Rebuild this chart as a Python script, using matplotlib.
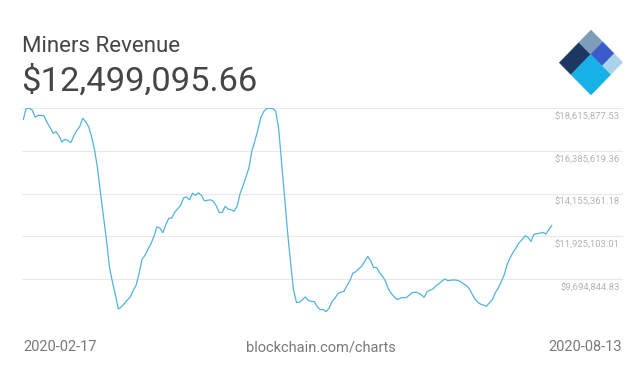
import numpy as np
import matplotlib
matplotlib.use("Agg")
import matplotlib.pyplot as plt
import pandas as pd

plt.rcParams['font.family'] = ['Roboto', 'DejaVu Sans']

# daily miners revenue (USD millions), 2020-02-17 .. 2020-08-13
revenue_m = [
    18.014, 18.585, 18.585, 18.497, 18.118, 18.222, 18.212, 18.186, 17.838, 17.599,
    17.288, 17.371, 17.148, 16.837, 16.977, 16.904, 16.801, 17.148, 17.423, 17.631,
    18.066, 17.890, 17.631, 17.112, 16.422, 15.473, 14.176, 12.963, 11.754, 10.354,
    9.576, 8.902, 8.160, 8.264, 8.435, 8.616, 8.772, 9.109, 9.394, 9.991,
    10.743, 10.950, 11.261, 11.547, 11.925, 12.428, 12.361, 12.117, 12.532, 12.869,
    12.880, 13.180, 13.362, 13.544, 13.933, 13.969, 13.829, 14.176, 14.062, 14.192,
    14.062, 13.777, 13.803, 13.829, 13.751, 13.517, 13.170, 13.170, 13.492, 13.346,
    13.310, 13.232, 13.481, 14.140, 14.555, 15.022, 15.489, 16.370, 16.889, 17.459,
    18.108, 18.419, 18.575, 18.585, 18.575, 18.445, 17.563, 15.748, 13.933, 12.169,
    10.613, 9.161, 8.502, 8.502, 8.642, 8.782, 8.600, 8.554, 8.538, 8.279,
    8.123, 8.123, 8.020, 8.201, 8.538, 8.730, 8.953, 9.031, 9.073, 9.368,
    9.627, 10.017, 10.094, 10.250, 10.380, 10.639, 10.888, 10.665, 10.302, 10.317,
    10.043, 9.861, 9.602, 9.187, 8.953, 8.772, 8.642, 8.720, 8.746, 8.746,
    8.876, 9.005, 9.031, 8.990, 8.901, 8.761, 9.057, 9.135, 9.197, 9.368,
    9.472, 9.602, 9.716, 9.627, 9.654, 9.664, 9.654, 9.602, 9.498, 9.394,
    9.265, 8.990, 8.694, 8.513, 8.409, 8.357, 8.295, 8.486, 8.642, 9.005,
    9.249, 9.576, 9.939, 10.483, 10.821, 11.106, 11.339, 11.599, 11.754, 11.962,
    11.884, 11.666, 12.040, 12.066, 12.092, 12.143, 12.050, 12.273, 12.499,
]
start_date = "2020-02-17"
end_date = "2020-08-13"
grid_values = [7464586.65, 9694844.83, 11925103.01, 14155361.18, 16385619.36, 18615877.53]
title = "Miners Revenue"
headline = "$12,499,095.66"
source = "blockchain.com/charts"

dates = pd.date_range(start_date, periods=len(revenue_m), freq="D")
revenue = np.array(revenue_m) * 1e6

W, H = 641, 376
fig = plt.figure(figsize=(W / 100, H / 100), dpi=100)

def fx(px):
    return px / W

def fy(py):
    return 1 - py / H

# plot area
ax = fig.add_axes([fx(22), fy(322.3), fx(623) - fx(22), fy(107.7) - fy(322.3)])
ax.plot(dates, revenue, color="#52b3dc", lw=0.9, solid_joinstyle="round")
t0 = pd.Timestamp(start_date)
ax.set_xlim(t0 - pd.Timedelta(days=0.44), t0 + pd.Timedelta(days=202))
ax.set_ylim(grid_values[0], grid_values[-1])
ax.set_yticks(grid_values)
ax.set_xticks([])
ax.tick_params(axis="y", length=0, labelleft=False)
ax.grid(axis="y", color="#e9e9e9", lw=0.8)
ax.set_axisbelow(True)
for s in ax.spines.values():
    s.set_visible(False)
ax.patch.set_alpha(0)

for v in grid_values[1:]:
    ax.annotate(f"${v:,.2f}", xy=(1, v), xycoords=("axes fraction", "data"),
                xytext=(-3, -9), textcoords="offset pixels",
                ha="right", va="center", fontsize=6.8, color="#b3b3b3")

# header text
fig.text(fx(22), fy(52.5), title, fontsize=16, color="#454545", va="baseline")
fig.text(fx(21), fy(90.5), headline, fontsize=24.8, color="#454545", va="baseline")

# footer text
fig.text(fx(23), fy(347), start_date, fontsize=10.5, color="#7a7a7a", va="center", ha="left")
fig.text(fx(321), fy(347), source, fontsize=10.5, color="#7a7a7a", va="center", ha="center")
fig.text(fx(622), fy(347), end_date, fontsize=10.5, color="#7a7a7a", va="center", ha="right")

# logo: diamond split into coloured blocks
lax = fig.add_axes([0, 0, 1, 1])
lax.set_xlim(0, W)
lax.set_ylim(H, 0)
lax.axis("off")
L = np.array([559.3, 62.7])
T = np.array([591.0, 30.0])
B = np.array([591.0, 95.0])

def P(a, b):
    return L + a * (T - L) + b * (B - L)

blocks = [
    (0.0, 0.62, 0.0, 0.37, "#1c3762"),
    (0.62, 1.0, 0.0, 0.37, "#7d9db8"),
    (0.62, 1.0, 0.37, 0.73, "#3a5bcc"),
    (0.62, 1.0, 0.73, 1.0, "#a9d3ea"),
    (0.0, 0.62, 0.37, 1.0, "#17b1e7"),
]
for a0, a1, b0, b1, c in blocks:
    pts = [P(a0, b0), P(a1, b0), P(a1, b1), P(a0, b1)]
    lax.add_patch(plt.Polygon(pts, closed=True, fc=c, ec=c, lw=0.3))

fig.savefig("out.png", dpi=100, facecolor="white")
